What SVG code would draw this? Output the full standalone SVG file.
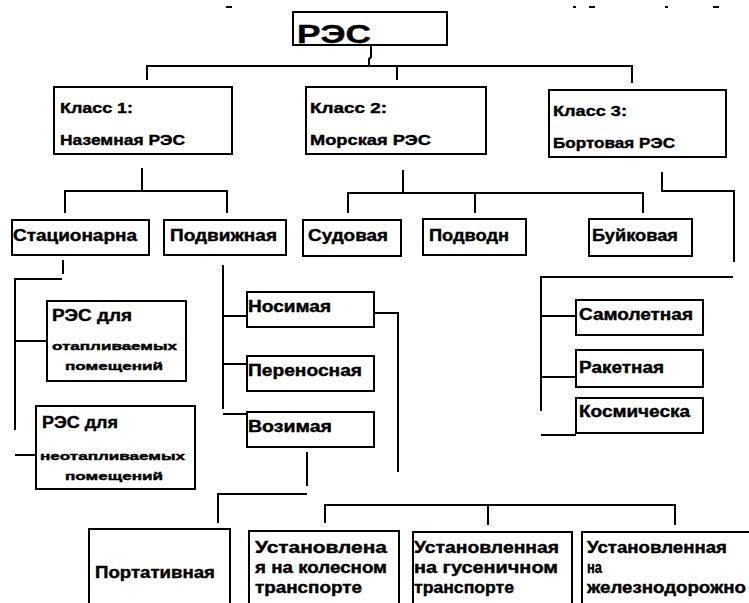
<svg xmlns="http://www.w3.org/2000/svg" width="749" height="603" viewBox="0 0 749 603">
<style>
.box{fill:#fff;stroke:#000;stroke-width:2}
.c{fill:none;stroke:#000;stroke-width:2}
text{font-family:"Liberation Sans",Arial,sans-serif;font-weight:bold;fill:#000;stroke:#000;stroke-width:0.4;font-size:15px}
.s{font-size:11px}
.m{font-size:16px}
.big{font-size:26px}
.mark{fill:#000}
</style>
<rect width="749" height="603" fill="#fff"/>
<g id="marks">
<rect class="mark" x="226" y="6" width="6" height="2"/>
<rect class="mark" x="573" y="6" width="3" height="2"/>
<rect class="mark" x="589" y="6" width="6" height="2"/>
<rect class="mark" x="665" y="6" width="3" height="2"/>
<rect class="mark" x="713" y="6" width="6" height="2"/>
</g>
<g id="connectors">
<polyline class="c" points="371,45 371,57 369,59 369,66"/>
<path class="c" d="M147,80 V66 H632 V83 M397,66 V80"/>
<path class="c" d="M142,168 V191 M65,213 V191 H227 V213"/>
<path class="c" d="M403,170 V193 M348,213 V193 H643 V213 M475,193 V213"/>
<path class="c" d="M662,172 V191 H734 V262"/>
<path class="c" d="M733,277 H541 V411 M541,316 H576 M541,377 H576 M541,435 H576"/>
<path class="c" d="M63,260 V274 M62,279 H15 V430 M15,341 H47 M15,455 H36"/>
<path class="c" d="M223,265 V409 M223,316 H247 M223,364 H247 M223,414 H247"/>
<path class="c" d="M374,313 H398 V472"/>
<path class="c" d="M307,452 V486 M307,494 H218 V523"/>
<path class="c" d="M325,523 V505 H675 V525 M488,505 V525"/>
</g>
<g id="n-root"><rect class="box" x="293" y="12" width="154" height="33"/><text class="big" x="297" y="43" textLength="74" lengthAdjust="spacingAndGlyphs">РЭС</text></g>
<g id="n-k1"><rect class="box" x="54" y="87" width="178" height="67"/><text x="60" y="113" textLength="73" lengthAdjust="spacingAndGlyphs">Класс 1:</text><text x="60" y="145" textLength="125" lengthAdjust="spacingAndGlyphs">Наземная РЭС</text></g>
<g id="n-k2"><rect class="box" x="306" y="87" width="180" height="67"/><text x="310" y="113" textLength="77" lengthAdjust="spacingAndGlyphs">Класс 2:</text><text x="310" y="145" textLength="121" lengthAdjust="spacingAndGlyphs">Морская РЭС</text></g>
<g id="n-k3"><rect class="box" x="549" y="90" width="177" height="67"/><text x="553" y="116" textLength="74" lengthAdjust="spacingAndGlyphs">Класс 3:</text><text x="553" y="148" textLength="122" lengthAdjust="spacingAndGlyphs">Бортовая РЭС</text></g>
<g id="n-stat"><rect class="box" x="12" y="220" width="137" height="35"/><text class="m" x="13" y="241" textLength="124" lengthAdjust="spacingAndGlyphs">Стационарна</text></g>
<g id="n-podv"><rect class="box" x="164" y="220" width="122" height="35"/><text class="m" x="170" y="241" textLength="107" lengthAdjust="spacingAndGlyphs">Подвижная</text></g>
<g id="n-sud"><rect class="box" x="303" y="220" width="98" height="36"/><text class="m" x="308" y="241" textLength="80" lengthAdjust="spacingAndGlyphs">Судовая</text></g>
<g id="n-podvod"><rect class="box" x="423" y="219" width="103" height="36"/><text class="m" x="429" y="241" textLength="80" lengthAdjust="spacingAndGlyphs">Подводн</text></g>
<g id="n-buyk"><rect class="box" x="589" y="219" width="103" height="37"/><text class="m" x="592" y="241" textLength="86" lengthAdjust="spacingAndGlyphs">Буйковая</text></g>
<g id="n-otap"><rect class="box" x="47" y="301" width="139" height="80"/><text class="m" x="52" y="321" textLength="80" lengthAdjust="spacingAndGlyphs">РЭС для</text><text class="s" x="52" y="350" textLength="125" lengthAdjust="spacingAndGlyphs">отапливаемых</text><text class="s" x="65" y="370" textLength="98" lengthAdjust="spacingAndGlyphs">помещений</text></g>
<g id="n-neotap"><rect class="box" x="36" y="406" width="159" height="83"/><text class="m" x="42" y="428" textLength="76" lengthAdjust="spacingAndGlyphs">РЭС для</text><text class="s" x="40" y="460" textLength="145" lengthAdjust="spacingAndGlyphs">неотапливаемых</text><text class="s" x="65" y="480" textLength="98" lengthAdjust="spacingAndGlyphs">помещений</text></g>
<g id="n-nos"><rect class="box" x="247" y="292" width="127" height="35"/><text class="m" x="248" y="312" textLength="83" lengthAdjust="spacingAndGlyphs">Носимая</text></g>
<g id="n-per"><rect class="box" x="247" y="356" width="127" height="35"/><text class="m" x="248" y="376" textLength="114" lengthAdjust="spacingAndGlyphs">Переносная</text></g>
<g id="n-voz"><rect class="box" x="247" y="412" width="127" height="35"/><text class="m" x="248" y="432" textLength="84" lengthAdjust="spacingAndGlyphs">Возимая</text></g>
<g id="n-sam"><rect class="box" x="576" y="300" width="127" height="35"/><text class="m" x="579" y="320" textLength="114" lengthAdjust="spacingAndGlyphs">Самолетная</text></g>
<g id="n-rak"><rect class="box" x="576" y="350" width="127" height="37"/><text class="m" x="579" y="373" textLength="85" lengthAdjust="spacingAndGlyphs">Ракетная</text></g>
<g id="n-kos"><rect class="box" x="576" y="398" width="127" height="35"/><text class="m" x="579" y="417" textLength="111" lengthAdjust="spacingAndGlyphs">Космическа</text></g>
<g id="n-port"><rect class="box" x="89" y="529" width="141" height="85"/><text class="m" x="95" y="578" textLength="120" lengthAdjust="spacingAndGlyphs">Портативная</text></g>
<g id="n-kol"><rect class="box" x="249" y="531" width="150" height="85"/><text class="m" x="255" y="553" textLength="132" lengthAdjust="spacingAndGlyphs">Установлена</text><text class="m" x="255" y="573" textLength="132" lengthAdjust="spacingAndGlyphs">я на колесном</text><text class="m" x="255" y="593" textLength="107" lengthAdjust="spacingAndGlyphs">транспорте</text></g>
<g id="n-gus"><rect class="box" x="413" y="532" width="159" height="85"/><text class="m" x="414" y="553" textLength="145" lengthAdjust="spacingAndGlyphs">Установленная</text><text class="m" x="414" y="573" textLength="144" lengthAdjust="spacingAndGlyphs">на гусеничном</text><text class="m" x="414" y="593" textLength="100" lengthAdjust="spacingAndGlyphs">транспорте</text></g>
<g id="n-zhel"><rect class="box" x="582" y="532" width="180" height="85"/><text class="m" x="587" y="553" textLength="140" lengthAdjust="spacingAndGlyphs">Установленная</text><text class="m" x="587" y="573" textLength="15" lengthAdjust="spacingAndGlyphs">на</text><text class="m" x="587" y="593" textLength="159" lengthAdjust="spacingAndGlyphs">железнодорожно</text></g>
</svg>
